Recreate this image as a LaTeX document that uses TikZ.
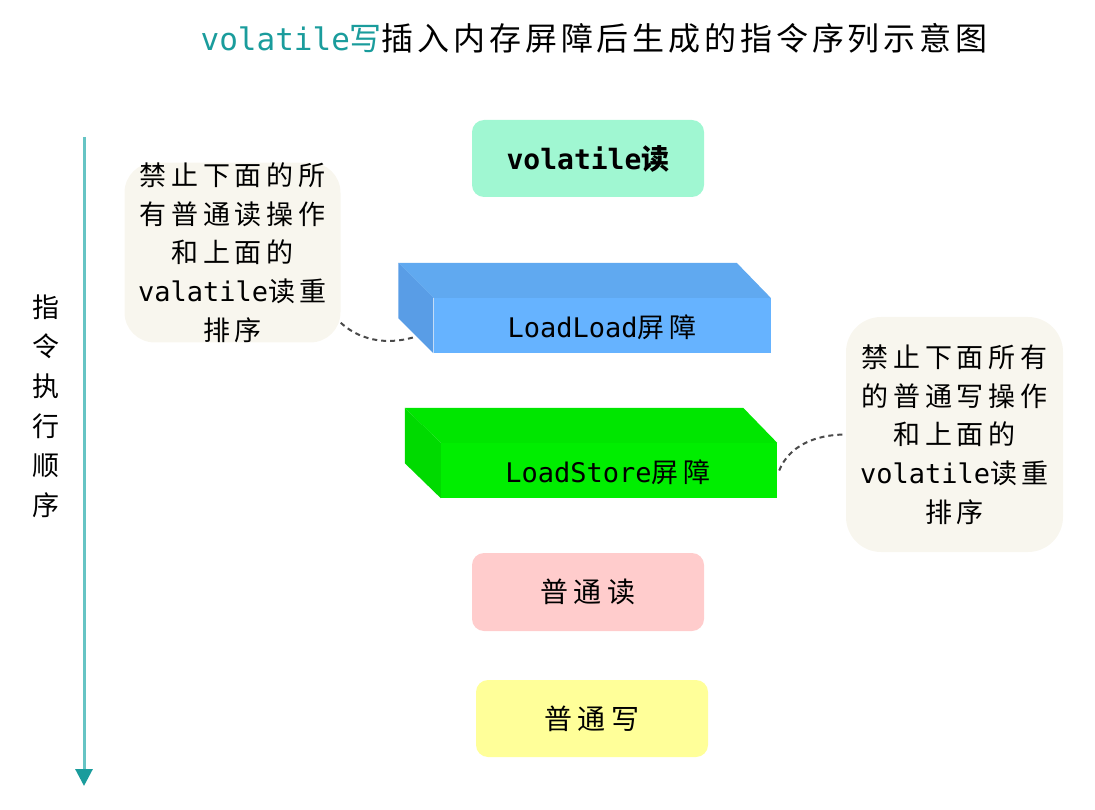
\documentclass[tikz,border=0pt]{standalone}
\usepackage{fontspec}
\setmainfont{DejaVu Sans Mono}
\newfontfamily\cjk[LetterSpace=18]{Noto Sans CJK SC}
\newfontfamily\cjkt[LetterSpace=12]{Noto Sans CJK SC}
\usetikzlibrary{arrows.meta}
\definecolor{teal1}{HTML}{1A9C9C}
\definecolor{teal2}{HTML}{66C4C4}
\definecolor{mint}{HTML}{A0F7D2}
\definecolor{pinkb}{HTML}{FFCCCC}
\definecolor{yellowb}{HTML}{FFFF99}
\definecolor{bluef}{HTML}{66B3FF}
\definecolor{bluet}{HTML}{60A9F0}
\definecolor{blues}{HTML}{599DE6}
\definecolor{greenf}{HTML}{00EE00}
\definecolor{greent}{HTML}{00E600}
\definecolor{greens}{HTML}{00DA00}
\definecolor{notef}{HTML}{F8F6EE}
\definecolor{dashc}{HTML}{4A4A4A}
\begin{document}
\begin{tikzpicture}[x=1pt,y=-1pt,
  opbox/.style={rounded corners=12pt,minimum width=232pt,minimum height=77pt,inner sep=0pt,font=\fontsize{28}{32}\selectfont},
  barrier/.style={minimum width=337pt,minimum height=55pt,inner sep=0pt,font=\fontsize{27}{32}\selectfont},
  notebox/.style={fill=notef,rounded corners=30pt,minimum width=216pt,inner sep=0pt,align=center,font=\fontsize{27}{38.7}\selectfont},
  conn/.style={dashc,line width=2pt,dash pattern=on 5pt off 4pt}]
\useasboundingbox (0,0) rectangle (1095,810);
% title
\node[inner sep=0pt] (title) at (594,38) {\fontsize{31}{36}\selectfont\textcolor{teal1}{volatile{\cjkt\fontsize{32}{36}\selectfont 写}}{\cjkt\fontsize{32}{36}\selectfont 插入内存屏障后生成的指令序列示意图}};
% arrow
\coordinate (atop) at (84,137);
\coordinate (abot) at (84,786);
\draw[teal2,line width=3pt,-{Triangle[width=17pt,length=17pt,color=teal1]}] (atop) -- (abot);
\node[align=center,inner sep=0pt,font=\fontsize{27}{39.6}\selectfont] (order) at (46,406) {\cjk 指\\\cjk 令\\\cjk 执\\\cjk 行\\\cjk 顺\\\cjk 序};
% op boxes
\node[opbox,fill=mint] (vr) at (588,158.5) {\bfseries volatile{\cjk 读}};
\node[opbox,fill=pinkb,minimum height=78pt] (pr) at (588,592) {\cjk 普通读};
\node[opbox,fill=yellowb] (pw) at (592,718.5) {\cjk 普通写};
% LoadLoad barrier
\node[barrier,fill=bluef] (ll) at (602,325.5) {};
\fill[bluet] (ll.north west) -- (ll.north east) -- ([shift={(-34,-35)}]ll.north east) -- ([shift={(-35,-35)}]ll.north west) -- cycle;
\fill[blues] (ll.north west) -- ([shift={(-35,-35)}]ll.north west) -- ([shift={(-35,-35)}]ll.south west) -- (ll.south west) -- cycle;
\node[font=\fontsize{27}{32}\selectfont] (lltext) at (602,327) {LoadLoad{\cjk 屏障}};
% LoadStore barrier
\node[barrier,fill=greenf,minimum width=336pt] (ls) at (609,470.5) {};
\fill[greent] (ls.north west) -- (ls.north east) -- ([shift={(-34,-35)}]ls.north east) -- ([shift={(-36,-35)}]ls.north west) -- cycle;
\fill[greens] (ls.north west) -- ([shift={(-36,-35)}]ls.north west) -- ([shift={(-36,-35)}]ls.south west) -- (ls.south west) -- cycle;
\node[font=\fontsize{27}{32}\selectfont] (lstext) at (608,472) {LoadStore{\cjk 屏障}};
% notes
\node[notebox,minimum height=179pt] (ln) at (232.5,252.5) {{\cjk 禁止下面的所}\\{\cjk 有普通读操作}\\{\cjk 和上面的}\\valatile{\cjk 读重}\\{\cjk 排序}};
\node[notebox,minimum width=217pt,minimum height=235pt,rounded corners=35pt] (rn) at (954.5,434.5) {{\cjk 禁止下面所有}\\{\cjk 的普通写操作}\\{\cjk 和上面的}\\volatile{\cjk 读重}\\{\cjk 排序}};
% connectors
\draw[conn] (ln.-33) .. controls +(22,20) and +(-25,8) .. ([shift={(-17,11)}]ll.west);
\draw[conn] ([xshift=2pt]ls.east) .. controls +(10,-25) and +(-30,0) .. (rn.west);
\end{tikzpicture}
\end{document}
